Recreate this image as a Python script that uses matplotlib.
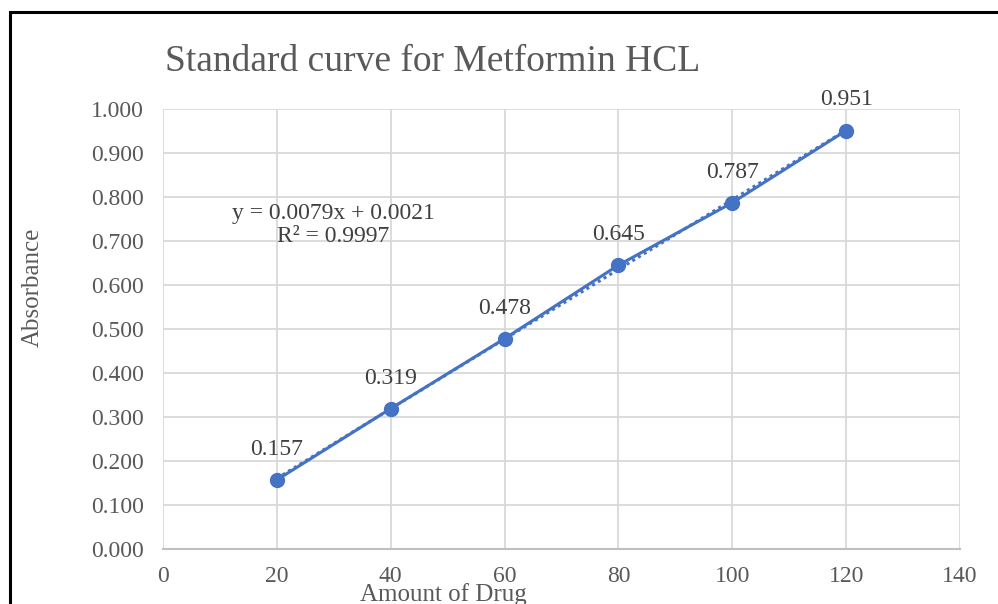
import numpy as np
import matplotlib
matplotlib.use('Agg')
import matplotlib.pyplot as plt
from matplotlib.patches import Rectangle

# Standard curve data
amount = [20, 40, 60, 80, 100, 120]
absorbance = [0.157, 0.319, 0.478, 0.645, 0.787, 0.951]
x_ticks = [0, 20, 40, 60, 80, 100, 120, 140]
y_ticks = [0.0, 0.1, 0.2, 0.3, 0.4, 0.5, 0.6, 0.7, 0.8, 0.9, 1.0]

blue = '#4472C4'
gray_txt = '#595959'
grid_c = '#D9D9D9'

plt.rcParams['font.family'] = ['Liberation Serif', 'DejaVu Serif']

fig = plt.figure(figsize=(9.98, 6.04), dpi=100)
ax = fig.add_axes([0.1633, 0.0911, 0.7986, 0.7285])

# linear trendline (dotted)
slope, icpt = np.polyfit(amount, absorbance, 1)
xs = np.array([amount[0], amount[-1]])
ax.plot(xs, slope * xs + icpt, color=blue, lw=2.2, ls=(0, (1, 1.2)), zorder=3)

ax.plot(amount, absorbance, color=blue, lw=2.2, marker='o', ms=10, zorder=4)

for xv, yv in zip(amount, absorbance):
    ax.annotate(f'{yv:.3f}', (xv, yv), xytext=(0, 22), textcoords='offset points',
                ha='center', va='center', fontsize=17, color='#404040')

fig.text(0.334, 0.627, 'y = 0.0079x + 0.0021\nR² = 0.9997',
         ha='center', va='center', fontsize=17, color='#404040', linespacing=1.1)

ax.set_xlim(0, 140)
ax.set_ylim(0, 1.0)
ax.set_xticks(x_ticks)
ax.set_yticks(y_ticks)
ax.set_yticklabels([f'{v:.3f}' for v in y_ticks])
ax.tick_params(length=0, labelsize=17, labelcolor=gray_txt)
ax.tick_params(axis='y', pad=14)
ax.tick_params(axis='x', pad=12)
ax.grid(True, color=grid_c, lw=1.3)
ax.set_axisbelow(True)
for s in ['top', 'right', 'left']:
    ax.spines[s].set_visible(False)
ax.spines['bottom'].set_color('#BFBFBF')
ax.spines['bottom'].set_linewidth(1.5)

fig.text(0.433, 0.898, 'Standard curve for Metformin HCL', ha='center', va='center',
         fontsize=27, color=gray_txt)
fig.text(0.033, 0.525, 'Absorbance', rotation=90, ha='center', va='center',
         fontsize=18, color=gray_txt)
fig.text(0.444, 0.016, 'Amount of Drug', ha='center', va='center',
         fontsize=18, color=gray_txt)

# outer border (cropped at right and bottom)
fig.patches.append(Rectangle((0.010, -0.05), 1.05, 1.03, transform=fig.transFigure,
                             fill=False, ec='black', lw=2.2))

fig.savefig('out.png', dpi=100)
